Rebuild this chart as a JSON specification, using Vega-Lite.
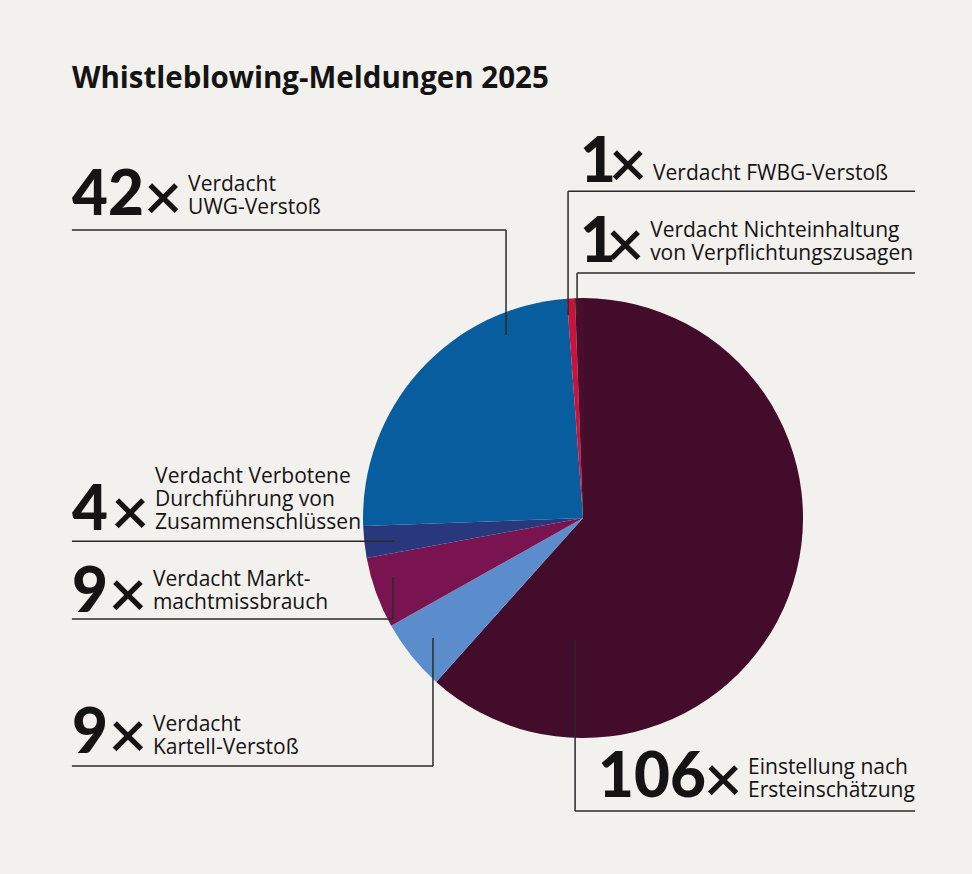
{
  "$schema": "https://vega.github.io/schema/vega-lite/v6.json",
  "width": 972,
  "height": 874,
  "autosize": {"type": "fit", "contains": "padding"},
  "padding": 0,
  "background": "#f3f1ee",
  "config": {"view": {"stroke": null}, "font": "Open Sans"},
  "datasets": {
    "slices": [
      {"kategorie": "Einstellung nach Ersteinschätzung", "anzahl": 106, "reihenfolge": 1},
      {"kategorie": "Verdacht Kartell-Verstoß", "anzahl": 9, "reihenfolge": 2},
      {"kategorie": "Verdacht Marktmachtmissbrauch", "anzahl": 9, "reihenfolge": 3},
      {"kategorie": "Verdacht Verbotene Durchführung von Zusammenschlüssen", "anzahl": 4, "reihenfolge": 4},
      {"kategorie": "Verdacht UWG-Verstoß", "anzahl": 42, "reihenfolge": 5},
      {"kategorie": "Verdacht FWBG-Verstoß", "anzahl": 1, "reihenfolge": 6},
      {"kategorie": "Verdacht Nichteinhaltung von Verpflichtungszusagen", "anzahl": 1, "reihenfolge": 7}
    ],
    "labels": [
      {"kategorie": "Verdacht UWG-Verstoß", "zeilen": ["Verdacht", "UWG-Verstoß"], "nx": -2.323, "ny": 1.377, "tx": -1.795, "ty": 1.486},
      {"kategorie": "Verdacht FWBG-Verstoß", "zeilen": ["Verdacht FWBG-Verstoß"], "nx": -0.014, "ny": 1.527, "tx": 0.318, "ty": 1.536},
      {"kategorie": "Verdacht Nichteinhaltung von Verpflichtungszusagen", "zeilen": ["Verdacht Nichteinhaltung", "von Verpflichtungszusagen"], "nx": -0.014, "ny": 1.164, "tx": 0.305, "ty": 1.277},
      {"kategorie": "Verdacht Verbotene Durchführung von Zusammenschlüssen", "zeilen": ["Verdacht Verbotene", "Durchführung von", "Zusammenschlüssen"], "nx": -2.323, "ny": -0.055, "tx": -1.945, "ty": 0.159},
      {"kategorie": "Verdacht Marktmachtmissbrauch", "zeilen": ["Verdacht Markt-", "machtmissbrauch"], "nx": -2.323, "ny": -0.427, "tx": -1.955, "ty": -0.309},
      {"kategorie": "Verdacht Kartell-Verstoß", "zeilen": ["Verdacht", "Kartell-Verstoß"], "nx": -2.323, "ny": -1.068, "tx": -1.955, "ty": -0.968},
      {"kategorie": "Einstellung nach Ersteinschätzung", "zeilen": ["Einstellung nach", "Ersteinschätzung"], "nx": 0.068, "ny": -1.268, "tx": 0.75, "ty": -1.164}
    ],
    "leaders": [
      {"x": -2.323, "x2": -0.35, "y": 1.309, "y2": 1.309},
      {"x": -0.35, "x2": -0.35, "y": 1.309, "y2": 0.832},
      {"x": -0.068, "x2": 1.509, "y": 1.486, "y2": 1.486},
      {"x": -0.068, "x2": -0.068, "y": 1.486, "y2": 0.923},
      {"x": -0.027, "x2": 1.509, "y": 1.114, "y2": 1.114},
      {"x": -0.027, "x2": -0.027, "y": 1.114, "y2": 0.923},
      {"x": -2.323, "x2": -0.855, "y": -0.105, "y2": -0.105},
      {"x": -2.323, "x2": -0.864, "y": -0.459, "y2": -0.459},
      {"x": -0.864, "x2": -0.864, "y": -0.459, "y2": -0.268},
      {"x": -2.323, "x2": -0.682, "y": -1.127, "y2": -1.127},
      {"x": -0.682, "x2": -0.682, "y": -1.127, "y2": -0.545},
      {"x": -0.036, "x2": 1.509, "y": -1.332, "y2": -1.332},
      {"x": -0.036, "x2": -0.036, "y": -1.332, "y2": -0.555}
    ]
  },
  "layer": [
    {
      "data": {"name": "slices"},
      "mark": {"type": "arc", "outerRadius": 220, "stroke": null},
      "encoding": {
        "theta": {"field": "anzahl", "type": "quantitative", "stack": true},
        "order": {"field": "reihenfolge", "type": "quantitative", "sort": "ascending"},
        "color": {
          "field": "kategorie",
          "type": "nominal",
          "legend": null,
          "scale": {
            "domain": [
              "Einstellung nach Ersteinschätzung",
              "Verdacht Kartell-Verstoß",
              "Verdacht Marktmachtmissbrauch",
              "Verdacht Verbotene Durchführung von Zusammenschlüssen",
              "Verdacht UWG-Verstoß",
              "Verdacht FWBG-Verstoß",
              "Verdacht Nichteinhaltung von Verpflichtungszusagen"
            ],
            "range": ["#420c2a", "#5b8dcd", "#7a1450", "#29387d", "#085d9e", "#c8143c", "#4a0d2e"]
          }
        },
        "x": {"datum": 0, "type": "quantitative", "scale": {"domain": [-2.65, 1.768], "nice": false, "zero": false}, "axis": null},
        "y": {"datum": 0, "type": "quantitative", "scale": {"domain": [-1.618, 2.355], "nice": false, "zero": false}, "axis": null}
      }
    },
    {
      "data": {"name": "leaders"},
      "mark": {"type": "rule", "color": "#2a2a2a", "strokeWidth": 1.5},
      "encoding": {
        "x": {"field": "x", "type": "quantitative", "scale": {"domain": [-2.65, 1.768], "nice": false, "zero": false}, "axis": null},
        "x2": {"field": "x2"},
        "y": {"field": "y", "type": "quantitative", "scale": {"domain": [-1.618, 2.355], "nice": false, "zero": false}, "axis": null},
        "y2": {"field": "y2"}
      }
    },
    {
      "data": {"name": "labels"},
      "transform": [
        {"lookup": "kategorie", "from": {"data": {"name": "slices"}, "key": "kategorie", "fields": ["anzahl"]}}
      ],
      "mark": {"type": "text", "align": "left", "baseline": "alphabetic", "font": "Lato", "fontSize": 62, "fontWeight": 900, "color": "#141414"},
      "encoding": {
        "x": {"field": "nx", "type": "quantitative", "scale": {"domain": [-2.65, 1.768], "nice": false, "zero": false}, "axis": null},
        "y": {"field": "ny", "type": "quantitative", "scale": {"domain": [-1.618, 2.355], "nice": false, "zero": false}, "axis": null},
        "text": {"field": "anzahl", "type": "nominal"}
      }
    },
    {
      "data": {"name": "labels"},
      "mark": {"type": "text", "align": "center", "baseline": "alphabetic", "font": "Lato", "fontSize": 66, "fontWeight": 600, "dx": -25, "dy": 5, "color": "#141414"},
      "encoding": {
        "x": {"field": "tx", "type": "quantitative", "scale": {"domain": [-2.65, 1.768], "nice": false, "zero": false}, "axis": null},
        "y": {"field": "ny", "type": "quantitative", "scale": {"domain": [-1.618, 2.355], "nice": false, "zero": false}, "axis": null},
        "text": {"value": "×"}
      }
    },
    {
      "data": {"name": "labels"},
      "mark": {"type": "text", "align": "left", "baseline": "alphabetic", "fontSize": 21, "fontWeight": 500, "lineHeight": 23, "color": "#141414"},
      "encoding": {
        "x": {"field": "tx", "type": "quantitative", "scale": {"domain": [-2.65, 1.768], "nice": false, "zero": false}, "axis": null},
        "y": {"field": "ty", "type": "quantitative", "scale": {"domain": [-1.618, 2.355], "nice": false, "zero": false}, "axis": null},
        "text": {"field": "zeilen", "type": "nominal"}
      }
    },
    {
      "data": {"values": [{"titel": "Whistleblowing-Meldungen 2025"}]},
      "mark": {"type": "text", "align": "left", "baseline": "alphabetic", "fontSize": 29.5, "fontWeight": "bold", "color": "#141414"},
      "encoding": {
        "x": {"datum": -2.323, "type": "quantitative", "scale": {"domain": [-2.65, 1.768], "nice": false, "zero": false}, "axis": null},
        "y": {"datum": 1.955, "type": "quantitative", "scale": {"domain": [-1.618, 2.355], "nice": false, "zero": false}, "axis": null},
        "text": {"field": "titel", "type": "nominal"}
      }
    }
  ]
}
